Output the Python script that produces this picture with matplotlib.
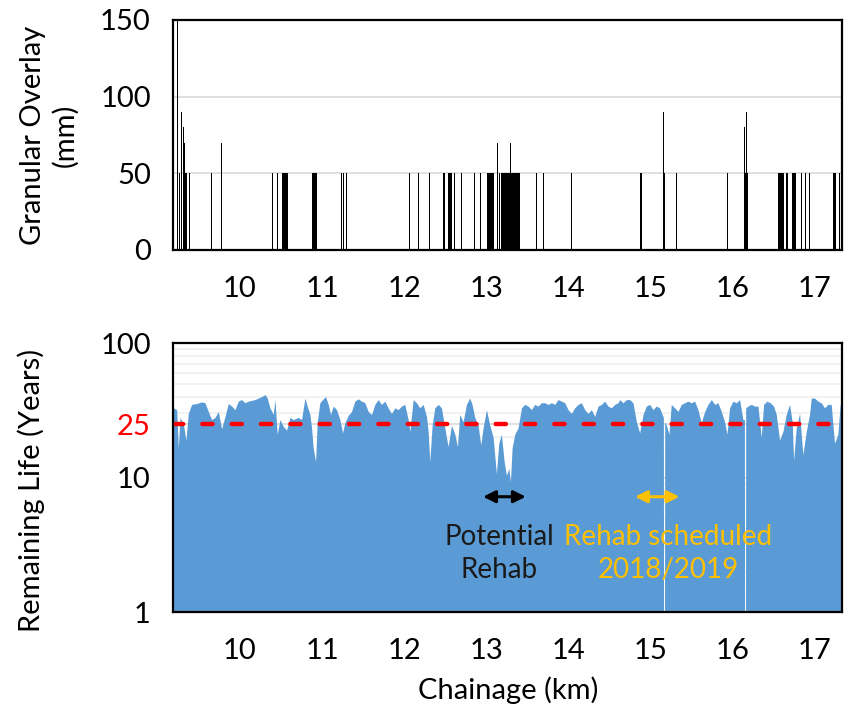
import matplotlib
matplotlib.use("Agg")
import matplotlib.pyplot as plt
import numpy as np

# ---------------- data ----------------
# Granular overlay segments: start km, end km, thickness (mm)
overlay_start = [9.237, 9.258, 9.284, 9.303, 9.316, 9.326, 9.379, 9.652, 9.765,
                 10.396, 10.455, 10.515, 10.715, 10.880, 11.233, 11.252, 11.295, 11.603,
                 12.064, 12.166, 12.302, 12.349, 12.476, 12.490, 12.504, 12.518, 12.530,
                 12.546, 12.560, 12.574, 12.590, 12.606, 12.628, 12.694, 12.714, 12.854,
                 12.925, 13.013, 13.130, 13.156, 13.175, 13.287, 13.299, 13.606, 13.691,
                 13.866, 14.035, 14.672, 14.866, 15.150, 15.156, 15.168, 15.219, 15.308,
                 15.366, 15.929, 16.135, 16.139, 16.150, 16.155, 16.167, 16.343, 16.549,
                 16.650, 16.662, 16.719, 16.825, 16.836, 16.865, 16.878, 16.911, 16.931,
                 17.218, 17.276, 17.296]
overlay_end = [9.249, 9.266, 9.296, 9.315, 9.326, 9.351, 9.387, 9.658, 9.777,
               10.401, 10.465, 10.580, 10.721, 10.937, 11.242, 11.261, 11.300, 11.609,
               12.074, 12.174, 12.312, 12.355, 12.484, 12.496, 12.512, 12.526, 12.540,
               12.554, 12.568, 12.582, 12.598, 12.612, 12.634, 12.700, 12.720, 12.864,
               12.931, 13.094, 13.142, 13.161, 13.287, 13.299, 13.414, 13.612, 13.697,
               13.871, 14.043, 14.680, 14.899, 15.156, 15.168, 15.178, 15.228, 15.317,
               15.371, 15.938, 16.139, 16.150, 16.155, 16.167, 16.184, 16.349, 16.618,
               16.657, 16.671, 16.772, 16.831, 16.841, 16.872, 16.886, 16.917, 16.937,
               17.251, 17.282, 17.302]
overlay_mm = [150, 50, 90, 80, 70, 50, 50, 50, 70,
              50, 50, 50, 50, 50, 50, 50, 50, 50,
              50, 50, 50, 50, 50, 50, 50, 50, 50,
              50, 50, 50, 50, 50, 50, 50, 50, 50,
              50, 50, 70, 50, 50, 70, 50, 50, 50,
              50, 50, 50, 50, 50, 90, 50, 50, 50,
              50, 50, 50, 80, 50, 90, 50, 50, 50,
              50, 50, 50, 50, 50, 50, 50, 50, 50,
              50, 50, 50]

# Remaining life profile: chainage (km) and years
life_km = [9.185, 9.189, 9.230, 9.250, 9.270, 9.311, 9.343, 9.371, 9.412, 9.473, 9.534,
           9.574, 9.615, 9.655, 9.696, 9.736, 9.777, 9.818, 9.858, 9.899, 9.939,
           9.980, 10.020, 10.061, 10.101, 10.142, 10.183, 10.223, 10.264, 10.304, 10.333,
           10.365, 10.406, 10.426, 10.454, 10.487, 10.527, 10.568, 10.608, 10.649, 10.710,
           10.750, 10.791, 10.819, 10.852, 10.872, 10.892, 10.921, 10.941, 10.973, 11.014,
           11.042, 11.075, 11.103, 11.135, 11.176, 11.217, 11.249, 11.277, 11.318, 11.358,
           11.399, 11.440, 11.480, 11.521, 11.561, 11.602, 11.642, 11.683, 11.723, 11.764,
           11.804, 11.845, 11.886, 11.926, 11.967, 12.007, 12.048, 12.068, 12.109, 12.149,
           12.190, 12.230, 12.271, 12.291, 12.311, 12.340, 12.372, 12.413, 12.453, 12.494,
           12.534, 12.575, 12.616, 12.648, 12.676, 12.717, 12.757, 12.798, 12.826, 12.859,
           12.899, 12.932, 12.960, 13.001, 13.041, 13.082, 13.122, 13.151, 13.183, 13.216,
           13.244, 13.273, 13.293, 13.313, 13.345, 13.386, 13.427, 13.467, 13.508, 13.548,
           13.589, 13.629, 13.670, 13.710, 13.751, 13.792, 13.832, 13.873, 13.913, 13.954,
           13.994, 14.035, 14.075, 14.116, 14.156, 14.197, 14.238, 14.278, 14.319, 14.359,
           14.400, 14.440, 14.481, 14.521, 14.562, 14.603, 14.623, 14.663, 14.704, 14.745,
           14.785, 14.826, 14.866, 14.907, 14.947, 14.988, 15.028, 15.069, 15.109, 15.150,
           15.155, 15.157, 15.169, 15.171, 15.191, 15.223, 15.251, 15.292, 15.333, 15.373,
           15.414, 15.454, 15.495, 15.535, 15.576, 15.616, 15.657, 15.698, 15.738, 15.779,
           15.819, 15.860, 15.900, 15.929, 15.961, 16.002, 16.042, 16.083, 16.123, 16.141,
           16.143, 16.155, 16.157, 16.184, 16.225, 16.265,
           16.306, 16.346, 16.375, 16.415, 16.456, 16.496, 16.529, 16.569, 16.610, 16.650,
           16.691, 16.723, 16.740, 16.772, 16.813, 16.853, 16.894, 16.934, 16.955, 16.995,
           17.036, 17.076, 17.117, 17.157, 17.198, 17.238, 17.279, 17.307, 17.330]
life_years = [33, 33, 32, 16.6, 28, 25, 19, 30, 35, 35.5, 36.5,
              36, 31, 27, 28, 31, 23, 28.5, 35.5, 34, 32,
              37, 38, 36, 37, 37.5, 38, 39, 40, 41.4, 39,
              33, 29.5, 38, 21, 27, 24, 22.5, 28, 27, 28,
              27, 39, 34, 29.5, 23.4, 16.6, 13.2, 26, 36, 38.5,
              40, 35, 29.4, 34, 32, 27, 21.5, 25.5, 29, 31,
              37, 38.5, 37, 36, 31, 29.4, 35, 38, 35, 37,
              33, 30, 33, 32, 34, 35, 27, 22, 38, 36,
              33, 35, 28.5, 22, 13.2, 24.5, 33, 35, 33, 23.4,
              17, 24.5, 21, 17, 29.5, 26, 35, 39, 35, 28,
              24.5, 17.5, 23.4, 32, 24.5, 20, 10.7, 18, 21, 13.2,
              10.4, 11.7, 9.3, 16.6, 21, 23.4, 33, 35, 34, 32,
              35, 34, 36, 36, 35, 36, 35, 38, 37, 36,
              32, 30, 33, 35, 36, 32, 30, 32, 28.5, 34,
              35, 37, 34, 33, 35, 36, 38, 36, 38, 38,
              36, 26, 21.5, 29.5, 34, 35, 32, 34, 33, 28.5,
              28, 1.0, 1.0, 26, 24.5, 21, 35, 33, 31, 35,
              36, 37, 36, 37, 32, 25.5, 31, 35, 38, 35,
              36, 31, 26, 21, 33, 37, 36, 38, 27, 27,
              1.0, 1.0, 33, 34, 35, 34,
              34, 20, 35, 37, 36, 34, 29.5, 19, 22, 29.5,
              35, 26, 13.5, 23.4, 30, 14.8, 22, 29.5, 39, 39,
              37, 36, 33, 35, 35, 18, 21, 35, 35]

threshold_years = 25
x_ticks = [10, 11, 12, 13, 14, 15, 16, 17]
top_yticks = [0, 50, 100, 150]
bottom_yticks = [1, 10, 25, 100]

# ---------------- style ----------------
FONT = ["Lato", "DejaVu Sans"]
plt.rcParams['font.family'] = FONT
FS = 21
BLUE = "#5B9BD5"
ORANGE = "#FFC000"

fig = plt.figure(figsize=(8.48, 7.11), dpi=100)
ax1 = fig.add_axes([0.204, 0.6484, 0.789, 0.3235])
ax2 = fig.add_axes([0.204, 0.1392, 0.789, 0.3783])
xlim = (9.185, 17.33)

# --- top panel ---
widths = [e - s for s, e in zip(overlay_start, overlay_end)]
ax1.bar(overlay_start, overlay_mm, width=widths, align='edge', color='black',
        linewidth=0, zorder=3)
ax1.set_xlim(*xlim)
ax1.set_ylim(0, 150)
ax1.set_yticks(top_yticks)
ax1.set_xticks(x_ticks)
ax1.grid(axis='y', color='#D9D9D9', linewidth=1.2, zorder=0)
ax1.tick_params(axis='both', length=0, labelsize=FS)
ax1.tick_params(axis='x', pad=19)
ax1.tick_params(axis='y', pad=16)

# --- bottom panel ---
ax2.set_yscale('log')
ax2.set_xlim(*xlim)
ax2.set_ylim(1, 100)
ax2.fill_between(life_km, 0.9, life_years, color=BLUE, linewidth=0, zorder=2)
ax2.set_yticks(bottom_yticks)
ax2.set_yticklabels([str(v) for v in bottom_yticks])
ax2.yaxis.set_minor_formatter(matplotlib.ticker.NullFormatter())
ax2.set_xticks(x_ticks)
ax2.grid(axis='y', which='minor', color='#F0F0F0', linewidth=1.2, zorder=0)
ax2.grid(axis='y', which='major', color='#D9D9D9', linewidth=1.2, zorder=0)
ax2.tick_params(axis='both', which='both', length=0, labelsize=FS)
ax2.tick_params(axis='x', pad=19)
ax2.tick_params(axis='y', pad=16)
for lbl, v in zip(ax2.get_yticklabels(), bottom_yticks):
    if v == threshold_years:
        lbl.set_color('#FF0000')

ax2.axhline(threshold_years, color='#FF0000', linewidth=3.2,
            linestyle=(0, (2.3, 4.3)), dash_capstyle='round', zorder=4)

for ax in (ax1, ax2):
    for sp in ax.spines.values():
        sp.set_linewidth(1.6)
        sp.set_color('black')
        sp.set_zorder(6)

# annotations
ax2.annotate('', xy=(12.96, 7.2), xytext=(13.48, 7.2),
             arrowprops=dict(arrowstyle='<|-|>', color='black', lw=2.2,
                             mutation_scale=18, shrinkA=0, shrinkB=0), zorder=5)
ax2.annotate('', xy=(14.81, 7.2), xytext=(15.35, 7.2),
             arrowprops=dict(arrowstyle='<|-|>', color=ORANGE, lw=2.2,
                             mutation_scale=18, shrinkA=0, shrinkB=0), zorder=5)
ax2.text(13.16, 2.72, 'Potential\nRehab', ha='center', va='center', fontsize=20,
         color='#1A1A1A', linespacing=1.3, zorder=5)
ax2.text(15.21, 2.72, 'Rehab scheduled\n2018/2019', ha='center', va='center',
         fontsize=20, color=ORANGE, linespacing=1.3, zorder=5)

# axis titles
fig.text(0.058, 0.81, 'Granular Overlay\n(mm)', rotation=90, ha='center', va='center',
         fontsize=FS, linespacing=1.25)
fig.text(0.037, 0.31, 'Remaining Life (Years)', rotation=90, ha='center', va='center',
         fontsize=FS)
fig.text(0.599, 0.029, 'Chainage (km)', ha='center', va='center', fontsize=FS)

fig.savefig('out.png', dpi=100)
